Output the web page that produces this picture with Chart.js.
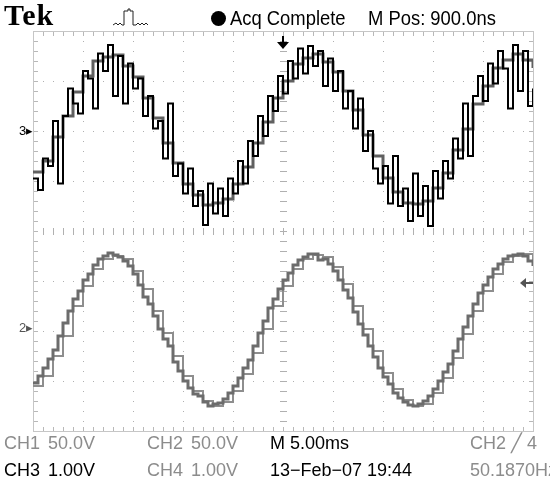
<!DOCTYPE html>
<html><head><meta charset="utf-8">
<script src="https://cdn.jsdelivr.net/npm/chart.js@4"></script>
<style>
html,body{margin:0;padding:0;background:#fff;width:550px;height:482px;overflow:hidden}
#wrap{position:relative;width:550px;height:482px;overflow:hidden}
canvas{position:absolute;left:0;top:0}
.t{position:absolute;font-family:"Liberation Sans",Arial,sans-serif;font-size:18px;line-height:18px;white-space:nowrap;color:#000}
.g{color:#8c8c8c}
.hd{font-size:20px;line-height:20px;transform:scaleX(0.92);transform-origin:0 0}
#tek{font-family:"Liberation Serif","Times New Roman",serif;font-weight:bold;font-size:30px;line-height:30px;letter-spacing:1px}
.mk{font-size:13px;line-height:13px}
</style></head>
<body><div id="wrap"><canvas id="c" width="550" height="482"></canvas>
<div class="t" id="tek" style="left:4px;top:0px">Tek</div>
<div class="t hd" style="left:230px;top:8px">Acq Complete</div>
<div class="t hd" style="left:368px;top:8px">M Pos: 900.0ns</div>
<div class="t mk" style="left:19px;top:124px">3▸</div>
<div class="t mk" style="left:19px;top:321px;color:#555">2▸</div>
<div class="t g" style="left:4px;top:434px">CH1</div>
<div class="t g" style="left:48px;top:434px">50.0V</div>
<div class="t g" style="left:147px;top:434px">CH2</div>
<div class="t g" style="left:191px;top:434px">50.0V</div>
<div class="t" style="left:270px;top:434px">M 5.00ms</div>
<div class="t g" style="left:470px;top:434px">CH2 ╱ 4</div>
<div class="t" style="left:4px;top:461px">CH3</div>
<div class="t" style="left:48px;top:461px">1.00V</div>
<div class="t g" style="left:147px;top:461px">CH4</div>
<div class="t g" style="left:191px;top:461px">1.00V</div>
<div class="t" style="left:270px;top:461px">13−Feb−07 19:44</div>
<div class="t g" style="left:470px;top:461px">50.1870Hz</div>
</div>
<script>
// sample times (ms), 5 ms/div, 10 divisions
const timeCoarseMs = [-25,-24,-23,-22,-21,-20,-19,-18,-17,-16,-15,-14,-13,-12,-11,-10,-9,-8,-7,-6,-5,-4,-3,-2,-1,0,1,2,3,4,5,6,7,8,9,10,11,12,13,14,15,16,17,18,19,20,21,22,23,24,25];
const timeFineMs = [-25,-24.5,-24,-23.5,-23,-22.5,-22,-21.5,-21,-20.5,-20,-19.5,-19,-18.5,-18,-17.5,-17,-16.5,-16,-15.5,-15,-14.5,-14,-13.5,-13,-12.5,-12,-11.5,-11,-10.5,-10,-9.5,-9,-8.5,-8,-7.5,-7,-6.5,-6,-5.5,-5,-4.5,-4,-3.5,-3,-2.5,-2,-1.5,-1,-0.5,0,0.5,1,1.5,2,2.5,3,3.5,4,4.5,5,5.5,6,6.5,7,7.5,8,8.5,9,9.5,10,10.5,11,11.5,12,12.5,13,13.5,14,14.5,15,15.5,16,16.5,17,17.5,18,18.5,19,19.5,20,20.5,21,21.5,22,22.5,23,23.5,24,24.5,25];

// screen positions in divisions (centre = 0)
const ch3Div = [1.05,0.82,1.45,1.30,2.20,0.95,2.30,2.85,2.55,2.35,
  3.20,3.05,2.45,3.55,3.20,3.72,2.70,3.50,2.55,3.35,
  2.85,3.05,2.30,2.70,2.05,2.20,1.45,2.55,1.10,1.35,
  0.75,1.25,0.50,0.80,0.12,0.95,0.35,0.85,0.30,1.05,
  0.75,1.40,0.95,1.80,1.50,2.30,1.90,2.70,2.40,3.10,
  2.75,3.40,3.05,3.65,3.15,3.70,3.30,3.60,2.90,3.45,
  2.80,3.20,2.45,2.80,2.05,2.65,1.60,2.00,1.25,0.95,
  1.30,0.55,1.50,0.50,0.85,0.20,1.15,0.30,0.90,0.10,
  1.20,0.65,1.40,1.05,1.85,1.45,2.55,1.50,2.70,3.10,
  2.60,3.35,2.95,3.60,3.25,2.45,3.72,2.80,3.60,2.50,
  2.85];
const ch1Div = [1.18,1.40,1.88,2.30,2.78,3.10,3.40,3.48,3.52,3.30,
  3.08,2.66,2.26,1.76,1.36,0.94,0.72,0.52,0.56,0.64,
  0.94,1.28,1.76,2.18,2.66,3.00,3.34,3.46,3.54,3.38,
  3.18,2.80,2.42,1.92,1.50,1.06,0.78,0.56,0.54,0.60,
  0.86,1.16,1.62,2.04,2.54,2.90,3.26,3.42,3.54,3.42,
  3.26];
const ch2Div = [-3.04,-2.90,-2.74,-2.56,-2.38,-2.10,-1.84,-1.60,-1.36,-1.20,
  -0.98,-0.86,-0.68,-0.56,-0.50,-0.44,-0.48,-0.52,-0.60,-0.70,
  -0.86,-1.08,-1.32,-1.46,-1.70,-1.96,-2.16,-2.30,-2.62,-2.80,
  -3.00,-3.14,-3.26,-3.30,-3.42,-3.50,-3.46,-3.44,-3.36,-3.24,
  -3.10,-2.94,-2.74,-2.58,-2.30,-2.04,-1.80,-1.54,-1.36,-1.16,
  -0.98,-0.84,-0.68,-0.58,-0.52,-0.46,-0.46,-0.58,-0.56,-0.66,
  -0.80,-0.98,-1.18,-1.34,-1.62,-1.86,-2.08,-2.30,-2.52,-2.74,
  -2.92,-3.06,-3.24,-3.34,-3.42,-3.48,-3.50,-3.46,-3.40,-3.30,
  -3.16,-3.00,-2.82,-2.66,-2.40,-2.16,-1.92,-1.70,-1.46,-1.24,
  -1.08,-0.92,-0.76,-0.66,-0.56,-0.50,-0.48,-0.46,-0.50,-0.60,
  -0.70];
const ch4Div = [-3.10,-2.90,-2.50,-2.10,-1.50,-1.10,-0.76,-0.56,-0.50,-0.56,
  -0.80,-1.16,-1.60,-2.04,-2.50,-2.90,-3.20,-3.40,-3.50,-3.42,
  -3.20,-2.86,-2.44,-1.96,-1.50,-1.10,-0.76,-0.56,-0.48,-0.52,
  -0.72,-1.06,-1.50,-1.96,-2.40,-2.84,-3.16,-3.38,-3.50,-3.46,
  -3.24,-2.94,-2.54,-2.06,-1.60,-1.20,-0.86,-0.62,-0.50,-0.46,
  -0.62];

const xDivTicks = [-20,-15,-10,-5,0,5,10,15,20];
const yDivTicks = [-3,-2,-1,0,1,2,3];
const ch2TriggerLevelDiv = -1.04;

function pts(ts, vs){ return vs.map((v,i)=>({x:ts[i], y:v})); }

const scopeDecor = {
  id:'scopeDecor',
  beforeDatasetsDraw(chart){
    const {ctx, chartArea:a, scales:{x,y}} = chart;
    const L=Math.round(a.left), R=Math.round(a.right), T=Math.round(a.top), B=Math.round(a.bottom);
    const cx=Math.round(x.getPixelForValue(0)), cy=Math.round(y.getPixelForValue(0));
    ctx.save();
    ctx.strokeStyle='#c6c6c6'; ctx.lineWidth=1;
    ctx.strokeRect(L+0.5,T+0.5,R-L,B-T);
    ctx.fillStyle='#b8b8b8';
    for(let px=L+10; px<R; px+=10){ ctx.fillRect(px,T+1,1,4); ctx.fillRect(px,B-4,1,4); }
    for(let py=T+10; py<B; py+=10){ ctx.fillRect(L+1,py,4,1); ctx.fillRect(R-4,py,4,1); }
    ctx.fillStyle='#b0b0b0';
    xDivTicks.forEach(t=>{ if(t===0) return; const px=Math.round(x.getPixelForValue(t));
      for(let py=T+10; py<B; py+=10) ctx.fillRect(px,py,1,1); });
    yDivTicks.forEach(v=>{ if(v===0) return; const py=Math.round(y.getPixelForValue(v));
      for(let px=L+10; px<R; px+=10) ctx.fillRect(px,py,1,1); });
    for(let px=L+10; px<R; px+=10) ctx.fillRect(px,cy-3,1,7);
    for(let py=T+10; py<B; py+=10) ctx.fillRect(cx-3,py,7,1);
    ctx.restore();
  },
  afterDraw(chart){
    const {ctx, chartArea:a, scales:{x,y}} = chart;
    const cx=Math.round(x.getPixelForValue(0));
    ctx.save();
    ctx.fillStyle='#000';
    ctx.fillRect(cx-1,a.top+5,2,7);
    ctx.beginPath(); ctx.moveTo(cx-6,a.top+11); ctx.lineTo(cx+6,a.top+11); ctx.lineTo(cx,a.top+18); ctx.closePath(); ctx.fill();
    const ty=Math.round(y.getPixelForValue(ch2TriggerLevelDiv));
    ctx.fillStyle='#555';
    ctx.fillRect(a.right-8,ty-1,8,2);
    ctx.beginPath(); ctx.moveTo(a.right-13,ty); ctx.lineTo(a.right-7,ty-5); ctx.lineTo(a.right-7,ty+5); ctx.closePath(); ctx.fill();
    ctx.fillStyle='#000';
    ctx.beginPath(); ctx.arc(218.5,18.5,7.5,0,Math.PI*2); ctx.fill();
    ctx.strokeStyle='#222'; ctx.lineWidth=1;
    ctx.beginPath();
    ctx.moveTo(113,25); ctx.lineTo(116,23); ctx.lineTo(118,25); ctx.lineTo(120,23); ctx.lineTo(122,25);
    ctx.lineTo(124,25); ctx.lineTo(124,11); ctx.lineTo(128,11); ctx.lineTo(128,9); ctx.lineTo(130,9); ctx.lineTo(130,11); ctx.lineTo(133,11);
    ctx.lineTo(133,25); ctx.lineTo(136,25); ctx.lineTo(138,23); ctx.lineTo(140,25); ctx.lineTo(142,23); ctx.lineTo(144,25); ctx.lineTo(146,23); ctx.lineTo(148,25);
    ctx.stroke();
    ctx.restore();
  }
};

new Chart(document.getElementById('c'), {
  type:'line',
  data:{datasets:[
    {label:'CH3', data:pts(timeFineMs,ch3Div), borderColor:'#000', borderWidth:2, stepped:true, pointRadius:0},
    {label:'CH1', data:pts(timeCoarseMs,ch1Div), borderColor:'#606060', borderWidth:3, stepped:true, pointRadius:0},
    {label:'CH2', data:pts(timeFineMs,ch2Div), borderColor:'#6c6c6c', borderWidth:3, stepped:true, pointRadius:0},
    {label:'CH4', data:pts(timeCoarseMs,ch4Div), borderColor:'#8e8e8e', borderWidth:2, stepped:true, pointRadius:0}
  ]},
  options:{
    responsive:false, animation:false, devicePixelRatio:1,
    layout:{padding:{left:33,right:17,top:31,bottom:51}},
    plugins:{legend:{display:false}, tooltip:{enabled:false}, title:{display:false}},
    scales:{
      x:{type:'linear', min:-25, max:25, display:false},
      y:{type:'linear', min:-4, max:4, display:false}
    },
    elements:{line:{tension:0, borderJoinStyle:'miter', borderCapStyle:'butt'}}
  },
  plugins:[scopeDecor]
});
</script>
</body></html>
